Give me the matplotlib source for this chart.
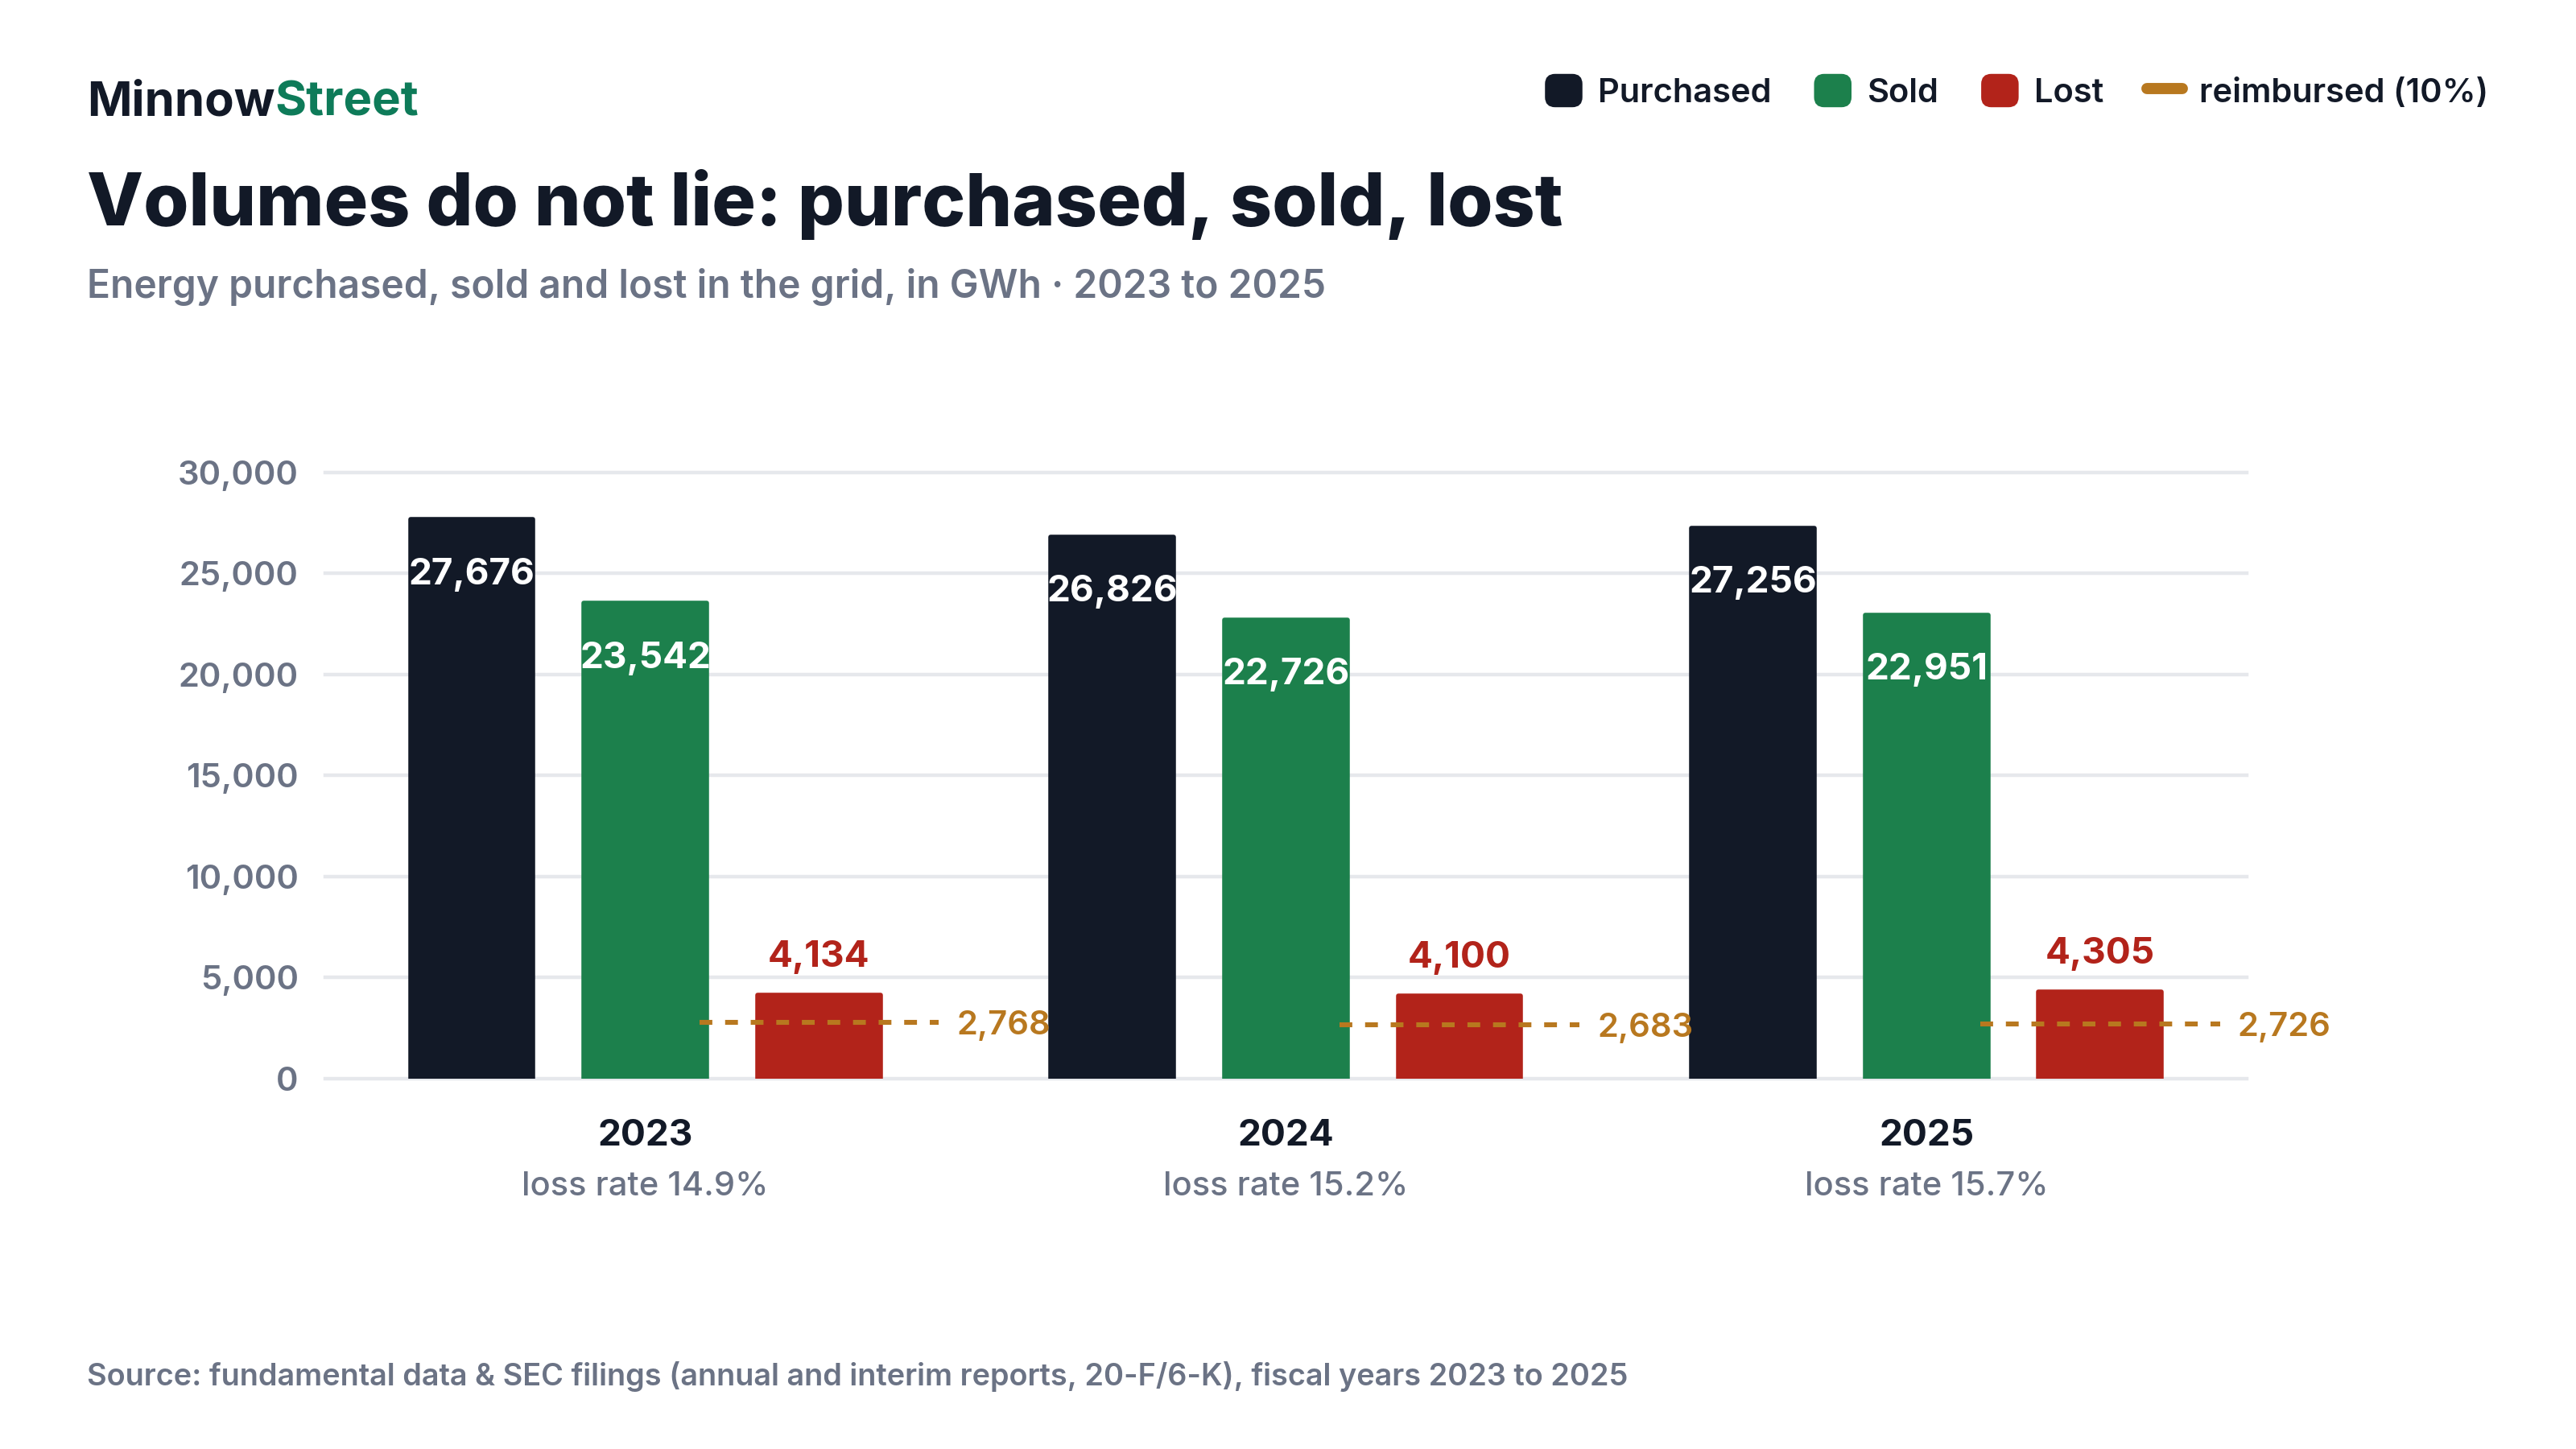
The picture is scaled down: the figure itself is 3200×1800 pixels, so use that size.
import numpy as np
import matplotlib.pyplot as plt
from matplotlib.patches import Patch, FancyBboxPatch
from matplotlib.lines import Line2D
from matplotlib.legend_handler import HandlerPatch
from matplotlib.transforms import blended_transform_factory

plt.rcParams['font.family'] = ['Inter', 'DejaVu Sans']

# data
years = ['2023', '2024', '2025']
purchased = [27676, 26826, 27256]
sold = [23542, 22726, 22951]
lost = [4134, 4100, 4305]
reimbursed = [2768, 2683, 2726]
loss_rate = [14.9, 15.2, 15.7]

dark = '#121927'
green = '#1c804c'
red = '#b2231a'
gold = '#b8781f'
grey = '#6b7385'
gridc = '#e6e8ec'

fig = plt.figure(figsize=(16, 9), dpi=200)
ax = fig.add_axes([0.1262, 0.2556, 0.746, 0.4183])

x = np.arange(len(years))
off = 0.271
w = 0.192

for vals, col, dx in ((purchased, dark, -off), (sold, green, 0), (lost, red, off)):
    ax.bar(x + dx, vals, width=w, color=col, edgecolor=col, linewidth=2,
           joinstyle='round', zorder=2)

for i in range(len(years)):
    ax.annotate('{:,}'.format(purchased[i]), (x[i] - off, purchased[i]),
                xytext=(0, -29), textcoords='offset points', ha='center',
                va='baseline', color='white', fontsize=16.5, fontweight='bold', zorder=4)
    ax.annotate('{:,}'.format(sold[i]), (x[i], sold[i]),
                xytext=(0, -29), textcoords='offset points', ha='center',
                va='baseline', color='white', fontsize=16.5, fontweight='bold', zorder=4)
    ax.annotate('{:,}'.format(lost[i]), (x[i] + off, lost[i]),
                xytext=(0, 12.5), textcoords='offset points', ha='center',
                va='baseline', color=red, fontsize=16.5, fontweight='bold', zorder=4)
    ax.plot([x[i] + off - 0.187, x[i] + off + 0.187], [reimbursed[i]] * 2,
            color=gold, linewidth=2.2, dashes=(2.6, 2.6), zorder=3)
    ax.annotate('{:,}'.format(reimbursed[i]), (x[i] + off + 0.187, reimbursed[i]),
                xytext=(8, 0), textcoords='offset points', ha='left',
                va='center_baseline', color=gold, fontsize=15, fontweight='semibold',
                annotation_clip=False)

trans = blended_transform_factory(ax.transData, ax.transAxes)
for i, yr in enumerate(years):
    ax.text(x[i], -0.1102, yr, transform=trans, ha='center', va='baseline',
            fontsize=16.5, fontweight='bold', color=dark)
    ax.text(x[i], -0.1926, 'loss rate {}%'.format(loss_rate[i]), transform=trans,
            ha='center', va='baseline', fontsize=15, fontweight='medium', color=grey)

ax.set_xlim(-0.5, 2.5)
ax.set_ylim(0, 30000)
ax.set_yticks(range(0, 30001, 5000))
ax.yaxis.set_major_formatter(plt.FuncFormatter(lambda v, p: '{:,}'.format(int(v))))
ax.tick_params(axis='y', length=0, pad=11.9, labelsize=15, labelcolor=grey)
for lab in ax.get_yticklabels():
    lab.set_fontweight('semibold')
ax.set_xticks([])
ax.grid(axis='y', color=gridc, linewidth=1.6, zorder=0)
ax.set_axisbelow(True)
for s in ax.spines.values():
    s.set_visible(False)
for gl in ax.get_ygridlines():
    gl.set_clip_on(False)

# header
t1 = fig.text(0.03375, 0.92, 'Minnow', fontsize=21.5, fontweight='bold', color=dark,
              ha='left', va='baseline')
ax.annotate('Street', xy=(1, 0), xycoords=t1, ha='left', va='bottom',
            fontsize=21.5, fontweight='bold', color='#0e7b59', annotation_clip=False)

fig.text(0.03375, 0.8442, 'Volumes do not lie: purchased, sold, lost', fontsize=32.8,
         fontweight='heavy', color=dark, ha='left', va='baseline')
fig.text(0.03375, 0.7944, 'Energy purchased, sold and lost in the grid, in GWh \u00b7 2023 to 2025',
         fontsize=17.25, fontweight='semibold', color=grey, ha='left', va='baseline')
fig.text(0.03375, 0.0439,
         'Source: fundamental data & SEC filings (annual and interim reports, 20-F/6-K), fiscal years 2023 to 2025',
         fontsize=13.65, fontweight='semibold', color=grey, ha='left', va='baseline')


def round_patch(legend, orig_handle, xdescent, ydescent, width, height, fontsize):
    return FancyBboxPatch((-xdescent, -ydescent), width, height,
                          boxstyle='round,pad=0,rounding_size=4')


handles = [Patch(color=dark, label='Purchased'),
           Patch(color=green, label='Sold'),
           Patch(color=red, label='Lost'),
           Line2D([0], [0], color=gold, linewidth=5, solid_capstyle='round',
                  label='reimbursed (10%)')]
leg = fig.legend(handles=handles, loc='center right', bbox_to_anchor=(0.966, 0.9367),
                 ncol=4, frameon=False, fontsize=15, handlelength=1.05, handleheight=1.05,
                 handletextpad=0.5, columnspacing=1.3, borderpad=0, borderaxespad=0,
                 handler_map={Patch: HandlerPatch(patch_func=round_patch)})
for t in leg.get_texts():
    t.set_fontweight('semibold')
    t.set_color(dark)

fig.savefig('out.png', dpi=200, facecolor='white')
